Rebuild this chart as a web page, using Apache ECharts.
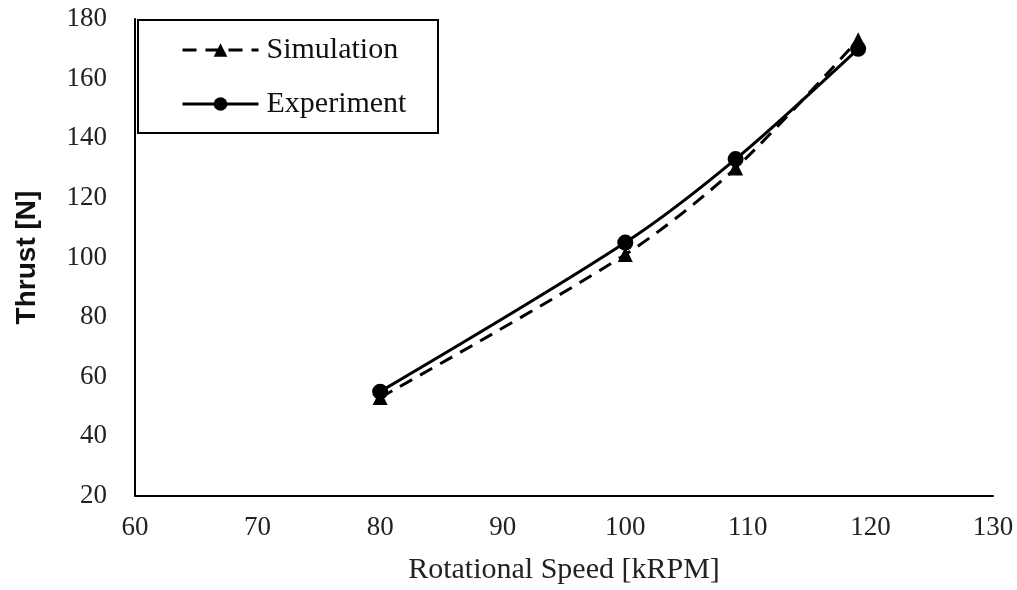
<!DOCTYPE html>
<html><head><meta charset="utf-8">
<script src="https://cdn.jsdelivr.net/npm/echarts@6/dist/echarts.min.js"></script>
<style>html,body{margin:0;padding:0;background:#fff}#c{width:1017px;height:590px}</style>
</head><body><div id="c"></div>
<script>
var speeds = [80, 100, 109, 119];
var simulation = [53, 101, 130, 173];
var experiment = [55, 105, 133, 170];
var xTicks = [60, 70, 80, 90, 100, 110, 120, 130];
var yTicks = [20, 40, 60, 80, 100, 120, 140, 160, 180];

function pairs(xs, ys){ return xs.map(function(x,i){ return [x, ys[i]]; }); }

var chart = echarts.init(document.getElementById('c'));
chart.setOption({
  animation: false,
  backgroundColor: '#fff',
  grid: { left: 135, right: 24, top: 19, bottom: 92, containLabel: false },
  xAxis: {
    type: 'value', min: xTicks[0], max: xTicks[xTicks.length-1], interval: 10,
    name: 'Rotational Speed [kRPM]', nameLocation: 'middle', nameGap: 59,
    nameTextStyle: { fontFamily: 'Liberation Serif', fontSize: 30, color: '#222' },
    axisLine: { lineStyle: { color: '#000', width: 2 } },
    axisTick: { show: false },
    axisLabel: { fontFamily: 'Liberation Serif', fontSize: 27, color: '#222', margin: 18 },
    splitLine: { show: false }
  },
  yAxis: {
    type: 'value', min: yTicks[0], max: yTicks[yTicks.length-1], interval: 20,
    name: 'Thrust [N]', nameLocation: 'middle', nameGap: 94,
    nameTextStyle: { fontFamily: 'Liberation Sans', fontWeight: 'bold', fontSize: 28, color: '#111' },
    axisLine: { show: true, lineStyle: { color: '#000', width: 2 } },
    axisTick: { show: false },
    axisLabel: { fontFamily: 'Liberation Serif', fontSize: 27, color: '#222', margin: 28 },
    splitLine: { show: false }
  },
  graphic: [{
    type: 'rect', left: 137, top: 19, z: 0,
    shape: { width: 300, height: 113 },
    style: { fill: '#fff', stroke: '#000', lineWidth: 2 }
  }],
  legend: {
    orient: 'vertical', left: 176, top: 30, itemWidth: 76, itemHeight: 17, itemGap: 24,
    lineStyle: { width: 3 },
    textStyle: { fontFamily: 'Liberation Serif', fontSize: 30, color: '#111', padding: [0,0,0,3] },
    data: ['Simulation', 'Experiment']
  },
  series: [
    {
      name: 'Simulation', type: 'line', smooth: 0.3,
      data: pairs(speeds, simulation),
      symbol: 'triangle', symbolSize: 15,
      lineStyle: { color: '#000', width: 3, type: [14, 9] },
      itemStyle: { color: '#000' }
    },
    {
      name: 'Experiment', type: 'line', smooth: 0.3,
      data: pairs(speeds, experiment),
      symbol: 'circle', symbolSize: 16,
      lineStyle: { color: '#000', width: 3 },
      itemStyle: { color: '#000' }
    }
  ]
});
</script></body></html>
